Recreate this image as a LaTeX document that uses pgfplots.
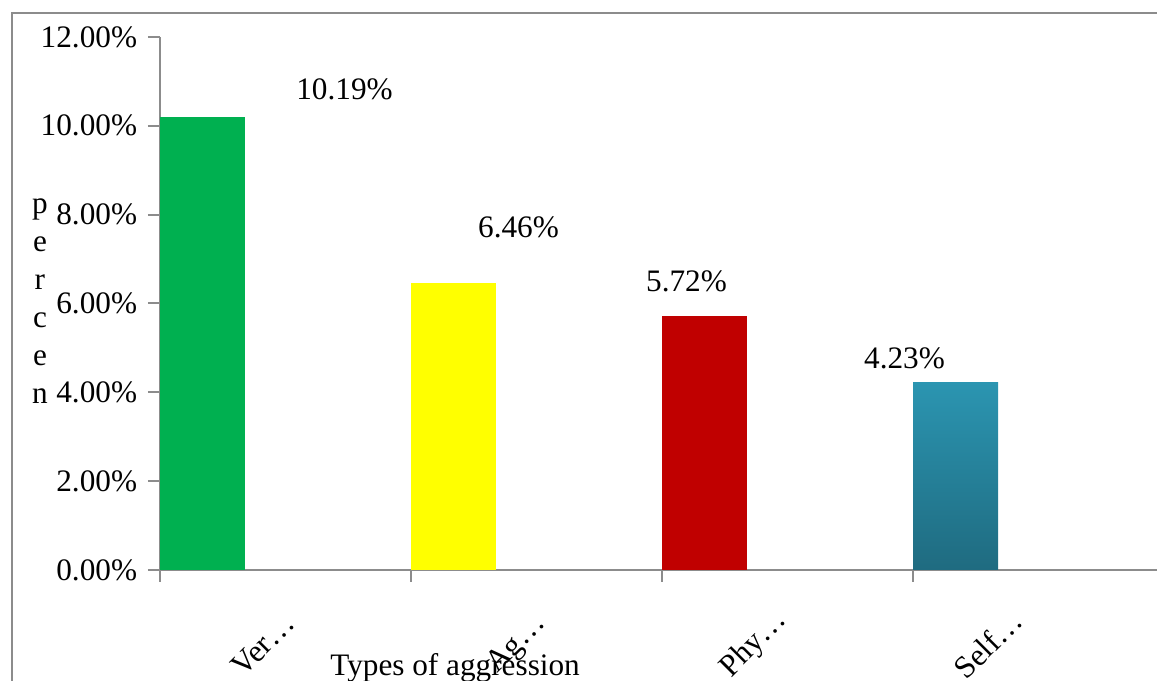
\documentclass[border=0pt]{standalone}
\usepackage{fontspec}
\setmainfont{Liberation Serif}
\usepackage{pgfplots}
\pgfplotsset{compat=1.18}
\definecolor{cgreen}{HTML}{00B050}
\definecolor{cyellow}{HTML}{FFFF00}
\definecolor{cred}{HTML}{C00000}
\definecolor{ctealtop}{HTML}{2B95B1}
\definecolor{ctealbot}{HTML}{1F6B80}
\definecolor{axgray}{HTML}{8C8C8C}
\begin{document}
\fontsize{12.5}{15}\selectfont
\begin{tikzpicture}
\useasboundingbox (0,0) rectangle (462.8pt,272.4pt);
\draw[axgray, line width=0.8pt] (4.8pt,-2pt) -- (4.8pt,267.2pt) -- (470pt,267.2pt);
\begin{axis}[
  at={(64pt,44.4pt)}, anchor=south west,
  scale only axis, width=398.8pt, height=213.2pt,
  xmin=0, xmax=3.972, ymin=0, ymax=12,
  clip=false,
  axis x line*=bottom, axis y line*=left,
  axis line style={draw=axgray, line width=0.8pt, -},
  tick style={draw=axgray, line width=0.8pt},
  tick align=outside, major tick length=4.8pt,
  xtick={0,1,2,3}, xticklabels={},
  ytick={0,2,4,6,8,10,12},
  /pgf/number format/assume math mode=true,
  yticklabel={\pgfmathprintnumber[fixed,fixed zerofill,precision=2]{\tick}\%},
  extra x ticks={0.410,1.422,2.367,3.299},
  extra x tick labels={Ver…,Ag…,Phy…,Self…},
  extra x tick style={major tick length=0pt, tick style={draw=none},
     xticklabel style={anchor=center, yshift=-29.8pt, rotate=45}},
  xlabel={Types of aggression},
  x label style={at={(axis description cs:0.296,-0.197)}, anchor=base},
  ylabel={p\\e\\r\\c\\e\\n},
  y label style={rotate=-90, at={(axis description cs:-0.1204,0.505)}, anchor=center, align=center, font=\fontsize{12.5}{15.2}\selectfont},
  nodes near coords={\pgfmathprintnumber[fixed,fixed zerofill,precision=2]{\pgfplotspointmeta}\%},
  nodes near coords align={center},
  every node near coord/.append style={anchor=center, text=black},
]
\addplot[ybar, bar width=34pt, bar shift=17pt, draw=none, fill=cgreen,
  every node near coord/.append style={xshift=73.8pt, yshift=11.2pt}]
  coordinates {(0,10.19)};
\addplot[ybar, bar width=34pt, bar shift=17pt, draw=none, fill=cyellow,
  every node near coord/.append style={xshift=43pt, yshift=22.4pt}]
  coordinates {(1,6.46)};
\addplot[ybar, bar width=34pt, bar shift=17pt, draw=none, fill=cred,
  every node near coord/.append style={xshift=9.8pt, yshift=14pt}]
  coordinates {(2,5.72)};
\addplot[ybar, bar width=34pt, bar shift=17pt, draw=none, top color=ctealtop, bottom color=ctealbot,
  every node near coord/.append style={xshift=-3.4pt, yshift=9.6pt}]
  coordinates {(3,4.23)};
\end{axis}
\end{tikzpicture}
\end{document}
